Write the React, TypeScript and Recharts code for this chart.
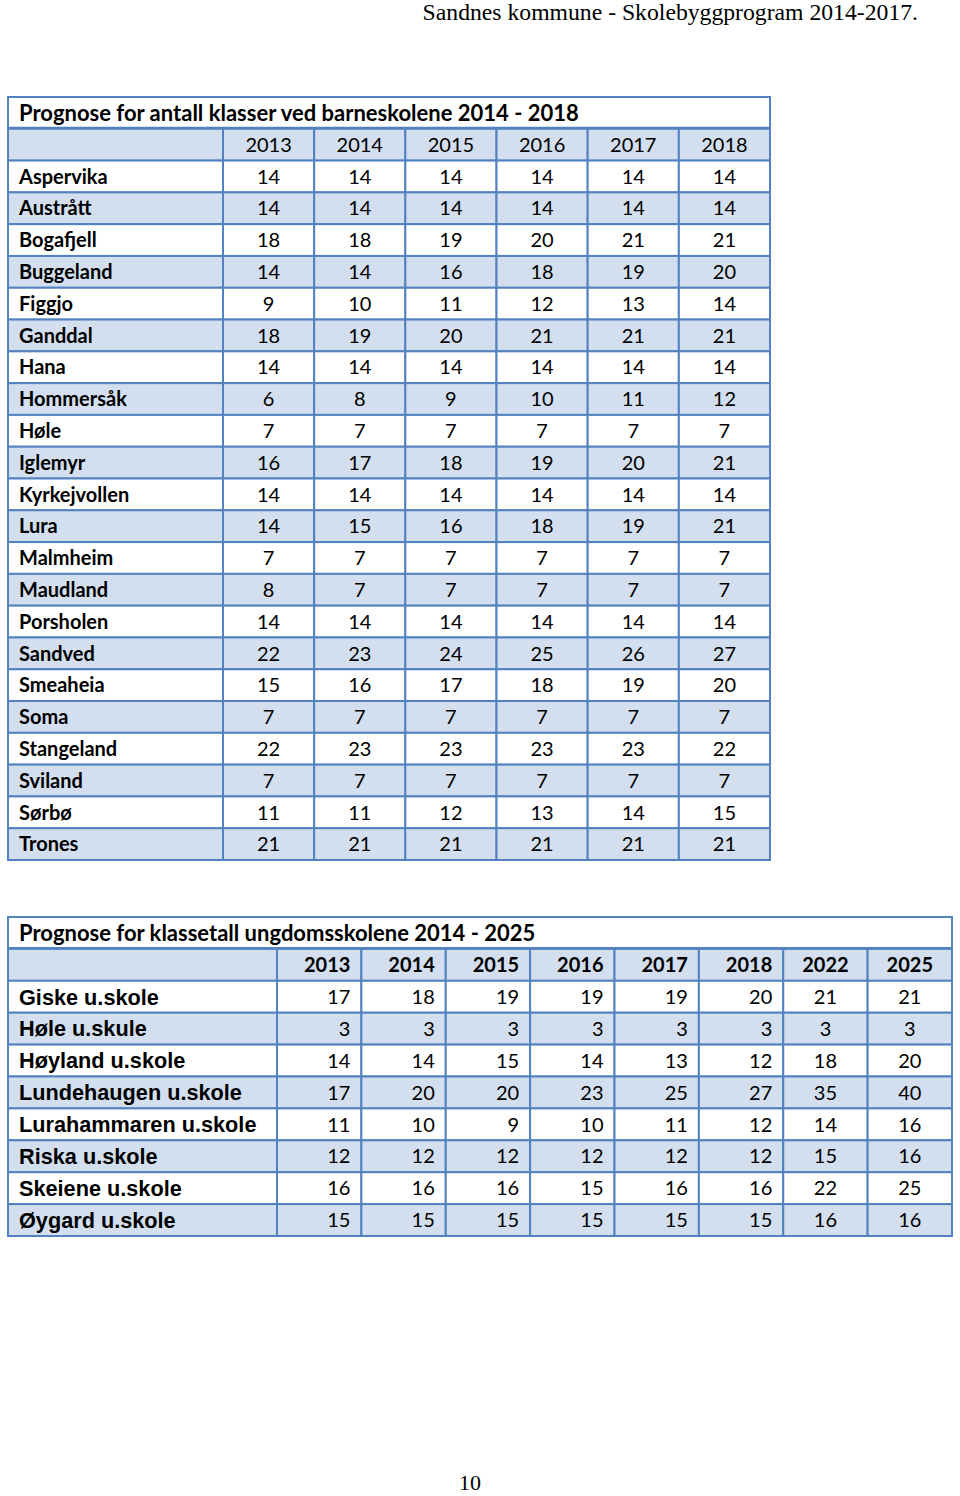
import React from "react";
import { ScatterChart, Scatter, XAxis, YAxis } from "recharts";

// ---------- DATA ----------
const pageHeader = "Sandnes kommune - Skolebyggprogram 2014-2017.";
const pageNumber = "10";

const title1 = "Prognose for antall klasser ved barneskolene 2014 - 2018";
const years1 = ["2013", "2014", "2015", "2016", "2017", "2018"];
const schools1 = [
  "Aspervika", "Austrått", "Bogafjell", "Buggeland", "Figgjo", "Ganddal", "Hana",
  "Hommersåk", "Høle", "Iglemyr", "Kyrkejvollen", "Lura", "Malmheim", "Maudland",
  "Porsholen", "Sandved", "Smeaheia", "Soma", "Stangeland", "Sviland", "Sørbø", "Trones",
];
const b2013 = [14, 14, 18, 14, 9, 18, 14, 6, 7, 16, 14, 14, 7, 8, 14, 22, 15, 7, 22, 7, 11, 21];
const b2014 = [14, 14, 18, 14, 10, 19, 14, 8, 7, 17, 14, 15, 7, 7, 14, 23, 16, 7, 23, 7, 11, 21];
const b2015 = [14, 14, 19, 16, 11, 20, 14, 9, 7, 18, 14, 16, 7, 7, 14, 24, 17, 7, 23, 7, 12, 21];
const b2016 = [14, 14, 20, 18, 12, 21, 14, 10, 7, 19, 14, 18, 7, 7, 14, 25, 18, 7, 23, 7, 13, 21];
const b2017 = [14, 14, 21, 19, 13, 21, 14, 11, 7, 20, 14, 19, 7, 7, 14, 26, 19, 7, 23, 7, 14, 21];
const b2018 = [14, 14, 21, 20, 14, 21, 14, 12, 7, 21, 14, 21, 7, 7, 14, 27, 20, 7, 22, 7, 15, 21];
const series1 = [b2013, b2014, b2015, b2016, b2017, b2018];

const title2 = "Prognose for klassetall ungdomsskolene 2014 - 2025";
const years2 = ["2013", "2014", "2015", "2016", "2017", "2018", "2022", "2025"];
const schools2 = [
  "Giske u.skole", "Høle u.skule", "Høyland u.skole", "Lundehaugen u.skole",
  "Lurahammaren u.skole", "Riska u.skole", "Skeiene u.skole", "Øygard u.skole",
];
const u2013 = [17, 3, 14, 17, 11, 12, 16, 15];
const u2014 = [18, 3, 14, 20, 10, 12, 16, 15];
const u2015 = [19, 3, 15, 20, 9, 12, 16, 15];
const u2016 = [19, 3, 14, 23, 10, 12, 15, 15];
const u2017 = [19, 3, 13, 25, 11, 12, 16, 15];
const u2018 = [20, 3, 12, 27, 12, 12, 16, 15];
const u2022 = [21, 3, 18, 35, 14, 15, 22, 16];
const u2025 = [21, 3, 20, 40, 16, 16, 25, 16];
const series2 = [u2013, u2014, u2015, u2016, u2017, u2018, u2022, u2025];

// ---------- STYLE ----------
const BORDER = "#5382c0";
const FILL = "#d3dfee";
const CAL = "Lato, 'Open Sans', sans-serif";
const ARIAL = "'Liberation Sans', Arial, sans-serif";

type Cell = {
  x: number; y: number; wu: number; text: string;
  align: "start" | "middle" | "end"; bold: boolean; fill: string;
  font: string; size: number; title?: boolean;
};

function buildCells(
  title: string, years: string[], schools: string[], series: number[][],
  labelUnits: number, alignFor: (j: number) => "start" | "middle" | "end",
  labelFont: string, labelSize: number, headerBold: boolean
): Cell[] {
  const total = labelUnits + years.length;
  const cells: Cell[] = [];
  cells.push({ x: total / 2, y: 0.5, wu: total, text: title, align: "start", bold: true, fill: "#ffffff", font: CAL, size: 22, title: true });
  cells.push({ x: labelUnits / 2, y: 1.5, wu: labelUnits, text: "", align: "start", bold: false, fill: FILL, font: CAL, size: 20 });
  years.forEach((yr, j) => {
    cells.push({ x: labelUnits + j + 0.5, y: 1.5, wu: 1, text: yr, align: alignFor(j), bold: headerBold, fill: FILL, font: CAL, size: 20 });
  });
  schools.forEach((s, i) => {
    const fill = i % 2 === 0 ? "#ffffff" : FILL;
    const y = i + 2.5;
    cells.push({ x: labelUnits / 2, y, wu: labelUnits, text: s, align: "start", bold: true, fill, font: labelFont, size: labelSize });
    series.forEach((col, j) => {
      cells.push({ x: labelUnits + j + 0.5, y, wu: 1, text: String(col[i]), align: alignFor(j), bold: false, fill, font: CAL, size: 20 });
    });
  });
  return cells;
}

function GridTable(props: {
  cells: Cell[]; totalUnits: number; nRows: number;
  left: number; top: number; width: number; height: number;
}) {
  const { cells, totalUnits, nRows, left, top, width, height } = props;
  const pad = 4;
  const pxX = width / totalUnits;
  const rowH = height / nRows;
  const renderCell = (p: any) => {
    const c: Cell = p.payload;
    const w = c.wu * pxX;
    const x0 = p.cx - w / 2;
    const y0 = p.cy - rowH / 2;
    const tx = c.align === "start" ? x0 + 11 : c.align === "end" ? x0 + w - 11 : p.cx;
    return (
      <g>
        <rect x={x0} y={y0} width={w} height={rowH} fill={c.fill} stroke={BORDER} strokeWidth={2} />
        {c.title ? (
          <line x1={x0} x2={x0 + w} y1={y0 + rowH} y2={y0 + rowH} stroke={BORDER} strokeWidth={4} />
        ) : null}
        <text
          x={tx}
          y={p.cy + c.size * 0.36}
          textAnchor={c.align}
          fontFamily={c.font}
          fontSize={c.size}
          fontWeight={c.bold ? 700 : 400}
          fill="#000"
        >
          {c.text}
        </text>
      </g>
    );
  };
  return (
    <div style={{ position: "absolute", left: left - pad, top: top - pad }}>
      <ScatterChart width={width + 2 * pad} height={height + 2 * pad} margin={{ top: pad, right: pad, bottom: pad, left: pad }}>
        <XAxis type="number" dataKey="x" domain={[0, totalUnits]} hide />
        <YAxis type="number" dataKey="y" domain={[0, nRows]} reversed hide />
        <Scatter data={cells} isAnimationActive={false} shape={renderCell} />
      </ScatterChart>
    </div>
  );
}

export default function App() {
  const lab1 = 215 / (547 / 6);
  const cells1 = buildCells(title1, years1, schools1, series1, lab1, () => "middle", CAL, 20, false);
  const lab2 = 269 / (675 / 8);
  const cells2 = buildCells(title2, years2, schools2, series2, lab2, (j) => (j < 6 ? "end" : "middle"), ARIAL, 21.7, true);
  return (
    <div style={{ position: "absolute", left: 0, top: 0, width: 960, height: 1496, background: "#fff" }}>
      <svg width={960} height={1496} style={{ position: "absolute", left: 0, top: 0 }}>
        <text x={918} y={20} textAnchor="end" fontFamily="'Liberation Serif', serif" fontSize={23.7} fill="#000">
          {pageHeader}
        </text>
        <text x={470} y={1490} textAnchor="middle" fontFamily="'Liberation Serif', serif" fontSize={22} fill="#000">
          {pageNumber}
        </text>
      </svg>
      <GridTable cells={cells1} totalUnits={lab1 + years1.length} nRows={schools1.length + 2} left={8} top={97} width={762} height={763} />
      <GridTable cells={cells2} totalUnits={lab2 + years2.length} nRows={schools2.length + 2} left={8} top={917} width={944} height={319} />
    </div>
  );
}
